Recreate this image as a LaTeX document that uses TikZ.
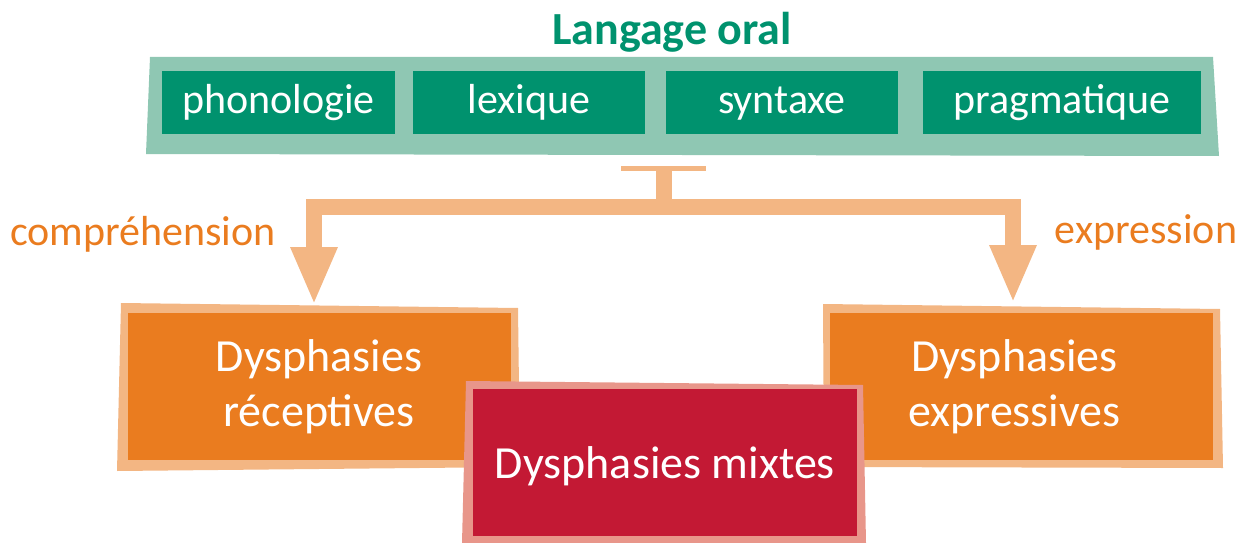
\documentclass[tikz,border=0pt]{standalone}
\usepackage{fontspec}
\setmainfont{Carlito}
\usetikzlibrary{arrows.meta}
\definecolor{dgreen}{HTML}{00926E}
\definecolor{lgreen}{HTML}{8FC7B3}
\definecolor{lorange}{HTML}{F3B683}
\definecolor{dorange}{HTML}{EA7C1F}
\definecolor{dred}{HTML}{C31934}
\definecolor{pinkb}{HTML}{E8968A}
\begin{document}
\begin{tikzpicture}[x=1pt,y=-1pt,
  topbox/.style={fill=dgreen, text=white, inner sep=0pt, minimum height=63pt,
    font=\fontsize{42}{50}\selectfont, text height=27pt, text depth=5pt},
  orbox/.style={fill=dorange, text=white, inner sep=0pt, minimum width=383pt, minimum height=147pt,
    align=center, font=\fontsize{46}{55}\selectfont},
  mixbox/.style={fill=dred, text=white, inner sep=0pt, minimum width=384pt, minimum height=147pt,
    font=\fontsize{46}{55}\selectfont, text height=37pt, text depth=6pt},
  sidelabel/.style={text=dorange, inner sep=0pt, font=\fontsize{42}{50}\selectfont},
  bigarrow/.style={draw=lorange, line width=16pt, line join=miter,
    -{Triangle[length=58pt,width=43pt]}}
]
\useasboundingbox (0,0) rectangle (1245,543);
% title
\node[text=dgreen, inner sep=0pt, anchor=base, font=\fontsize{46}{54}\selectfont\bfseries] (title) at (672,45) {Langage oral};
% green frame
\fill[lgreen] (150,57) -- (1213,57) -- (1219,156) -- (146,154) -- cycle;
\node[topbox, minimum width=233pt] (phon) at (278.5,102.5) {phonologie};
\node[topbox, minimum width=232pt] (lex) at (529,102.5) {lexique};
\node[topbox, minimum width=232pt] (synt) at (782,102.5) {syntaxe};
\node[topbox, minimum width=278pt] (prag) at (1062,102.5) {pragmatique};
% T connector
\coordinate (tleft) at (621,168.5);
\coordinate (tright) at (706,168.5);
\coordinate (ttop) at (664,171);
\coordinate (split) at (664,207);
\coordinate (recvtop) at (314,305);
\coordinate (exprtop) at (1013,303);
\draw[lorange, line width=5pt] (tleft) -- (tright);
\draw[lorange, line width=16pt] (ttop) -- (split);
\draw[bigarrow] (split) -| (recvtop);
\draw[bigarrow] (split) -| (exprtop);
% side labels
\node[sidelabel, anchor=base] (comp) at (143,245) {compréhension};
\node[sidelabel, anchor=base] (expr) at (1146,243) {expression};
% orange boxes
\fill[lorange] (121,303) -- (518,308) -- (520,467) -- (117,471) -- cycle;
\node[orbox] (recv) at (319,386.5) {Dysphasies\\réceptives};
\fill[lorange] (823,304) -- (1220,309) -- (1223,468) -- (824,467) -- cycle;
\node[orbox] (expv) at (1021.5,386.5) {\hspace*{-14pt}Dysphasies\\\hspace*{-14pt}expressives};
% red box
\fill[pinkb] (466,381) -- (863,385) -- (866,543) -- (462,543) -- cycle;
\node[mixbox] (mix) at (665,462.5) {Dysphasies mixtes};
\end{tikzpicture}
\end{document}
